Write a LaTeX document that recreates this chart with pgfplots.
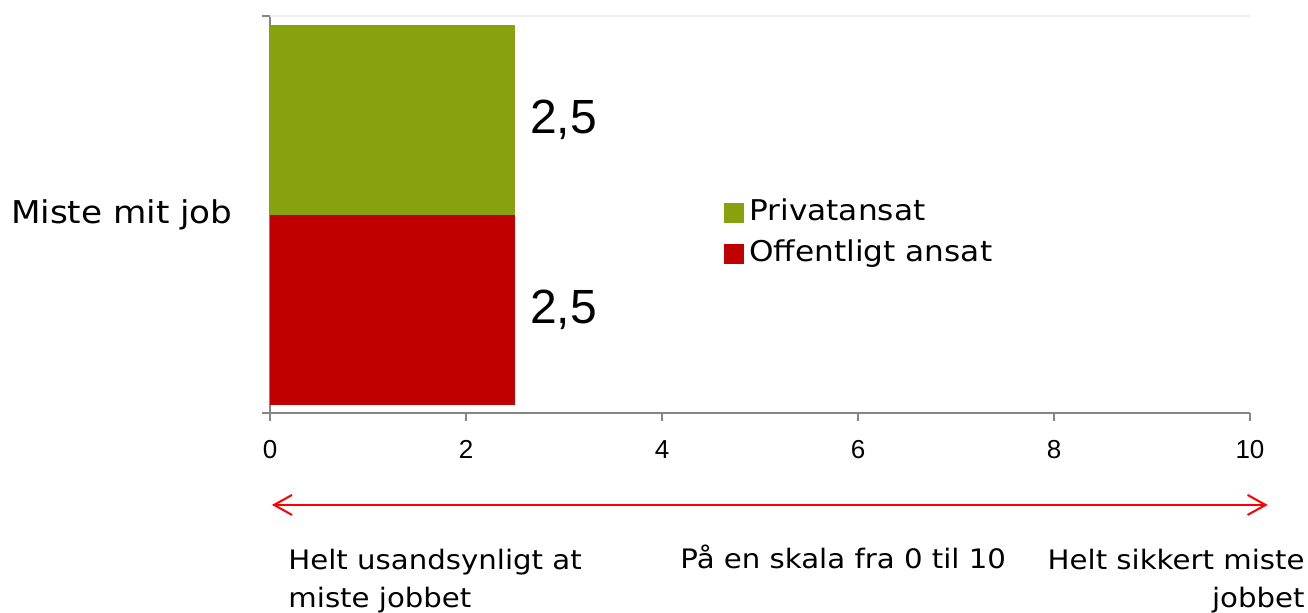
\documentclass[border=0pt]{standalone}
\usepackage{pgfplots}
\pgfplotsset{compat=1.18}
\usepackage{fontspec}
\setmainfont{DejaVu Sans}[FakeStretch=1.09]
\newfontfamily\arialfont{Liberation Sans}
\usetikzlibrary{arrows.meta}
\definecolor{pgreen}{HTML}{88A10E}
\definecolor{ored}{HTML}{C00000}
\definecolor{axgray}{HTML}{868686}
\definecolor{topgray}{HTML}{EEEEEE}
\begin{document}
\begin{tikzpicture}
\useasboundingbox (-135pt,-100pt) rectangle (519pt,206.5pt);
\begin{axis}[
  at={(0pt,0pt)}, anchor=south west,
  scale only axis, width=490pt, height=198.5pt,
  xmin=0, xmax=10, ymin=-1.0421, ymax=1.0474,
  clip=false,
  axis x line*=bottom, axis y line*=left,
  axis line style={axgray, line width=1pt},
  xtick={0,2,...,10},
  tick align=outside, major tick length=4pt,
  xtick style={axgray, line width=1pt},
  ytick={0}, yticklabels={Miste mit job},
  ytick style={draw=none},
  /pgf/number format/assume math mode=true,
  xticklabel style={font=\arialfont\fontsize{13}{15}\selectfont, inner sep=0pt, yshift=-9.5pt},
  yticklabel style={font=\fontsize{15.7}{19}\selectfont, inner sep=0pt, xshift=-14.5pt},
  legend style={at={(axis cs:4.633,-0.095)}, anchor=west, draw=none, fill=none,
    inner sep=0pt, row sep=4.5pt, column sep=1.5pt,
    font=\fontsize{14.3}{17}\selectfont,
    nodes={inner sep=1pt, text height=11pt, text depth=3pt}},
  legend cell align=left,
  point meta=x,
  nodes near coords={\pgfmathprintnumber[use comma,fixed,fixed zerofill,precision=1]{\pgfplotspointmeta}},
  every node near coord/.append style={font=\arialfont\fontsize{24}{28}\selectfont, black, anchor=west, xshift=4pt},
]
\addplot[xbar, bar width=95pt, bar shift=0pt, fill=pgreen, draw=none,
  legend image code/.code={\fill[pgreen] (0pt,-5pt) rectangle (10pt,5pt);}]
  coordinates {(2.5,0.5)};
\addlegendentry{Privatansat}
\addplot[xbar, bar width=95pt, bar shift=0pt, fill=ored, draw=none,
  legend image code/.code={\fill[ored] (0pt,-5pt) rectangle (10pt,5pt);}]
  coordinates {(2.5,-0.5)};
\addlegendentry{Offentligt ansat}
\draw[topgray, line width=1pt] (axis cs:0,1.0474) -- (axis cs:10,1.0474);
\draw[axgray, line width=1pt] (axis cs:0,1.0474) -- ++(-4pt,0pt);
\draw[axgray, line width=1pt] (axis cs:0,-1.0421) -- ++(-4pt,0pt);
\draw[red, line width=1pt, {Straight Barb[length=9pt,width=10pt]}-{Straight Barb[length=9pt,width=10pt]}]
  (axis cs:0.02,-1.526) -- (axis cs:10.18,-1.526);
\begin{scope}[every node/.style={font=\fontsize{13.4}{17}\selectfont, inner sep=0pt}]
\node[anchor=base west] at (axis cs:0.184,-1.868) {Helt usandsynligt at};
\node[anchor=base west] at (axis cs:0.184,-2.068) {miste jobbet};
\node[anchor=base west] at (axis cs:4.184,-1.858) {På en skala fra 0 til 10};
\node[anchor=base east] at (axis cs:10.561,-1.868) {Helt sikkert miste};
\node[anchor=base east] at (axis cs:10.561,-2.068) {jobbet};
\end{scope}
\end{axis}
\end{tikzpicture}
\end{document}
